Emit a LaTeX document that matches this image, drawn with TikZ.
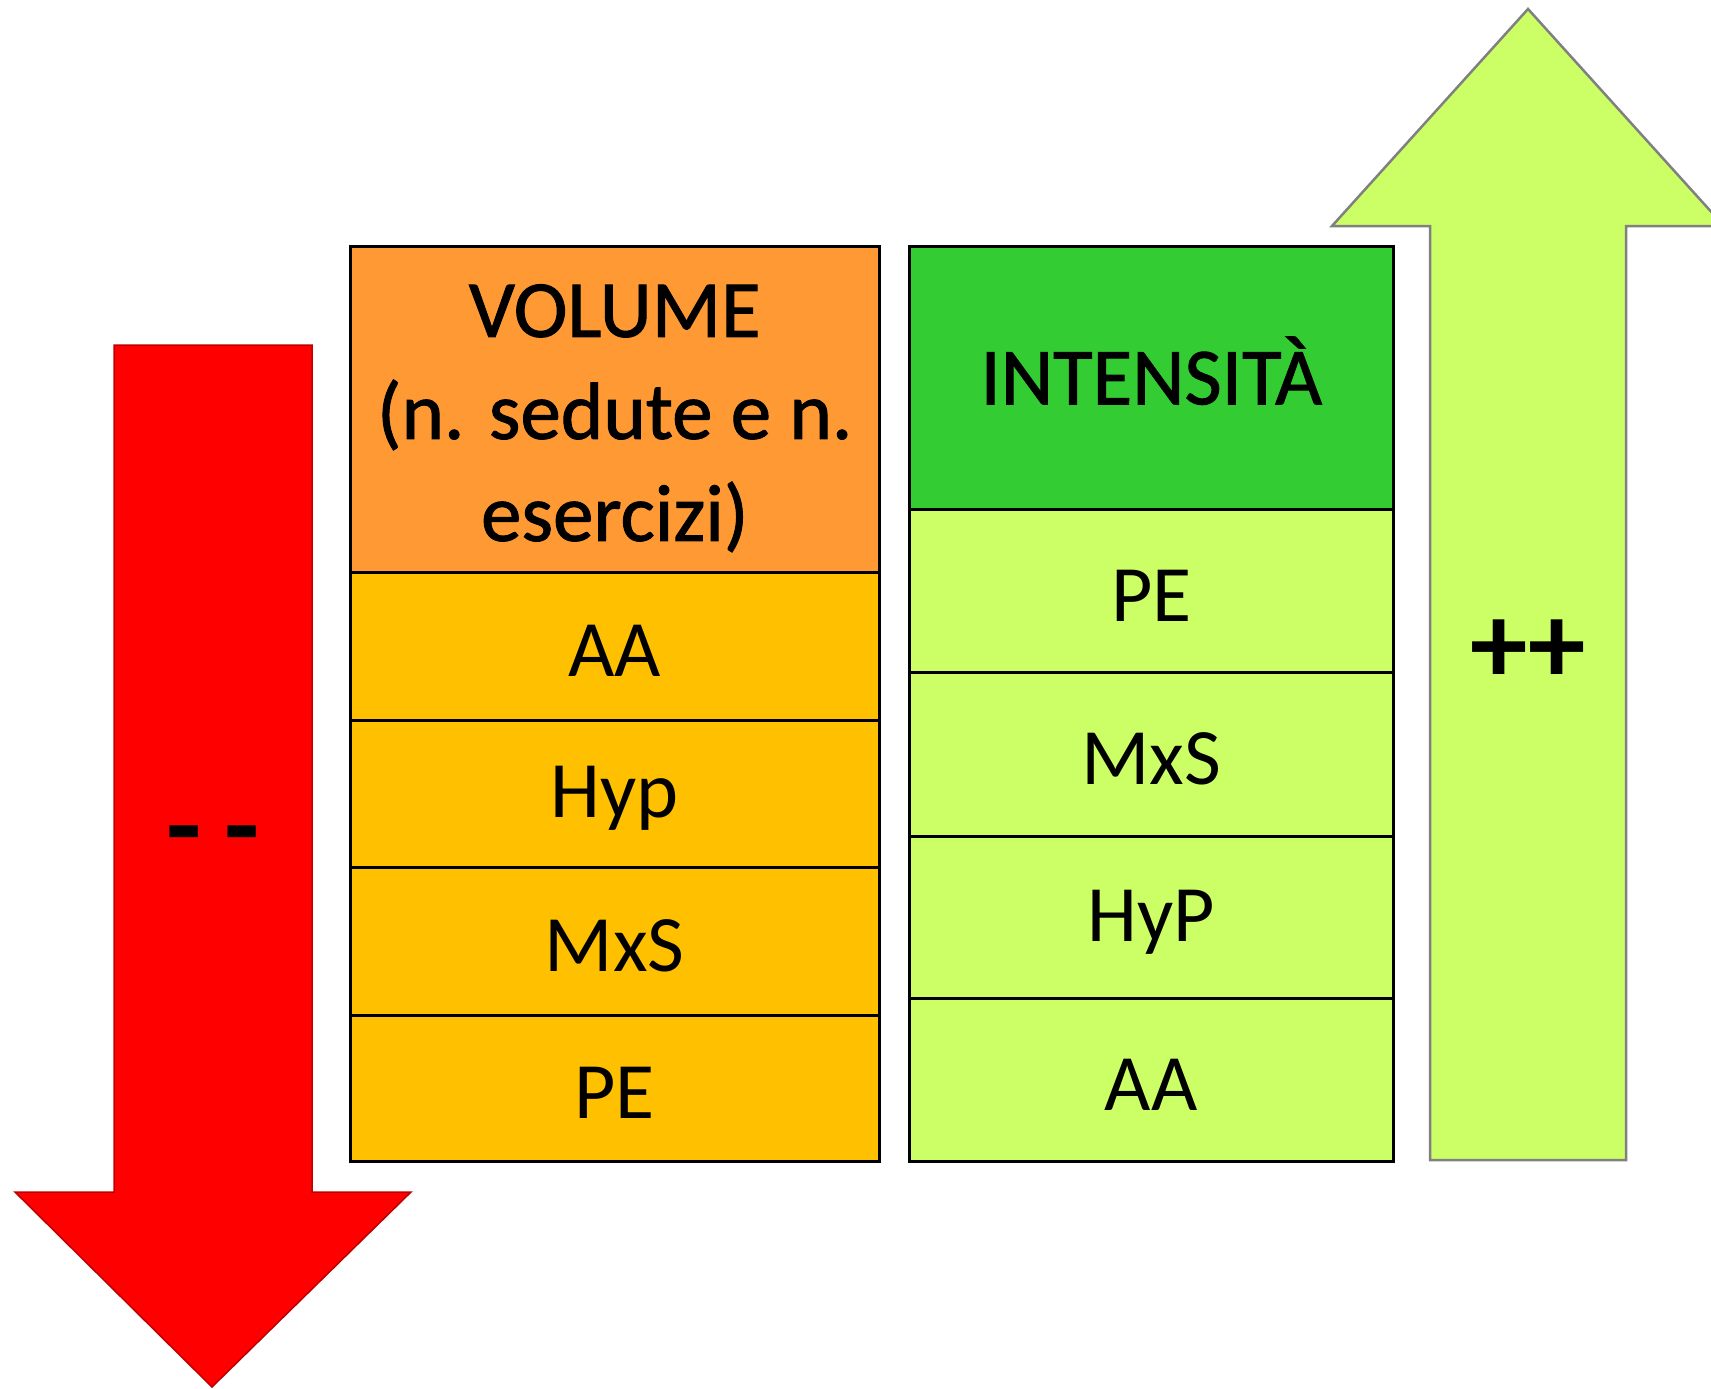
\documentclass[tikz,border=0pt]{standalone}
\usepackage{fontspec}
\setmainfont{Carlito}
\newfontfamily\hdrfont[FakeBold=1.2]{Carlito}
\definecolor{hdrorange}{HTML}{FF9933}
\definecolor{roworange}{HTML}{FFC000}
\definecolor{hdrgreen}{HTML}{33CC33}
\definecolor{rowgreen}{HTML}{CCFF66}
\definecolor{arrowred}{HTML}{FF0000}
\definecolor{redline}{HTML}{C00000}
\definecolor{greyline}{HTML}{808080}
\tikzset{
  cell/.style={draw=black, line width=2.5pt, anchor=north west, inner sep=0pt},
  celltext/.style={inner sep=0pt, font=\fontsize{80}{102}\selectfont, text=black, align=center},
  hdrtext/.style={celltext, font=\hdrfont\fontsize{81}{102}\selectfont},
  arrowlabel/.style={font=\bfseries\fontsize{115}{120}\selectfont, text=black, inner sep=0pt},
}
\begin{document}
\begin{tikzpicture}[x=1pt, y=-1pt]
\clip (0,0) rectangle (1711,1389);
\useasboundingbox (0,0) rectangle (1711,1389);
% red arrow (down)
\draw[fill=arrowred, draw=redline, line width=1.5pt, line join=miter]
  (114,345) -- (312,345) -- (312,1192) -- (411,1192) -- (212,1387) -- (15,1192) -- (114,1192) -- cycle;
\node[arrowlabel] (minus) at (213,845) {-\hspace{0.2em}-};
% green arrow (up)
\draw[fill=rowgreen, draw=greyline, line width=2.5pt, line join=miter]
  (1430,1160) -- (1430,226) -- (1332,226) -- (1528,9) -- (1724,226) -- (1626,226) -- (1626,1160) -- cycle;
\node[arrowlabel] (plus) at (1528,652) {++};
% volume column
\node[cell, fill=hdrorange, minimum width=529pt, minimum height=326pt] (v0) at (349,245) {};
\node[cell, fill=roworange, minimum width=529pt, minimum height=148pt] (v1) at (349,571) {};
\node[cell, fill=roworange, minimum width=529pt, minimum height=147pt] (v2) at (349,719) {};
\node[cell, fill=roworange, minimum width=529pt, minimum height=148pt] (v3) at (349,866) {};
\node[cell, fill=roworange, minimum width=529pt, minimum height=146pt] (v4) at (349,1014) {};
\node[hdrtext] (tv0) at ([yshift=-9pt]v0.center) {VOLUME\\(n. sedute e n.\\esercizi)};
\node[celltext] (tv1) at ([yshift=-5pt]v1.center) {AA};
\node[celltext] (tv2) at ([yshift=-5pt]v2.center) {Hyp};
\node[celltext] (tv3) at ([yshift=-5pt]v3.center) {MxS};
\node[celltext] (tv4) at ([yshift=-5pt]v4.center) {PE};
% intensity column
\node[cell, fill=hdrgreen, minimum width=484pt, minimum height=263pt] (i0) at (908,245) {};
\node[cell, fill=rowgreen, minimum width=484pt, minimum height=163pt] (i1) at (908,508) {};
\node[cell, fill=rowgreen, minimum width=484pt, minimum height=164pt] (i2) at (908,671) {};
\node[cell, fill=rowgreen, minimum width=484pt, minimum height=162pt] (i3) at (908,835) {};
\node[cell, fill=rowgreen, minimum width=484pt, minimum height=163pt] (i4) at (908,997) {};
\node[hdrtext] (ti0) at ([yshift=7pt]i0.center) {INTENSITÀ};
\node[celltext] (ti1) at ([yshift=-5pt]i1.center) {PE};
\node[celltext] (ti2) at ([yshift=-5pt]i2.center) {MxS};
\node[celltext] (ti3) at ([yshift=-5pt]i3.center) {HyP};
\node[celltext] (ti4) at ([yshift=-5pt]i4.center) {AA};
\end{tikzpicture}
\end{document}
